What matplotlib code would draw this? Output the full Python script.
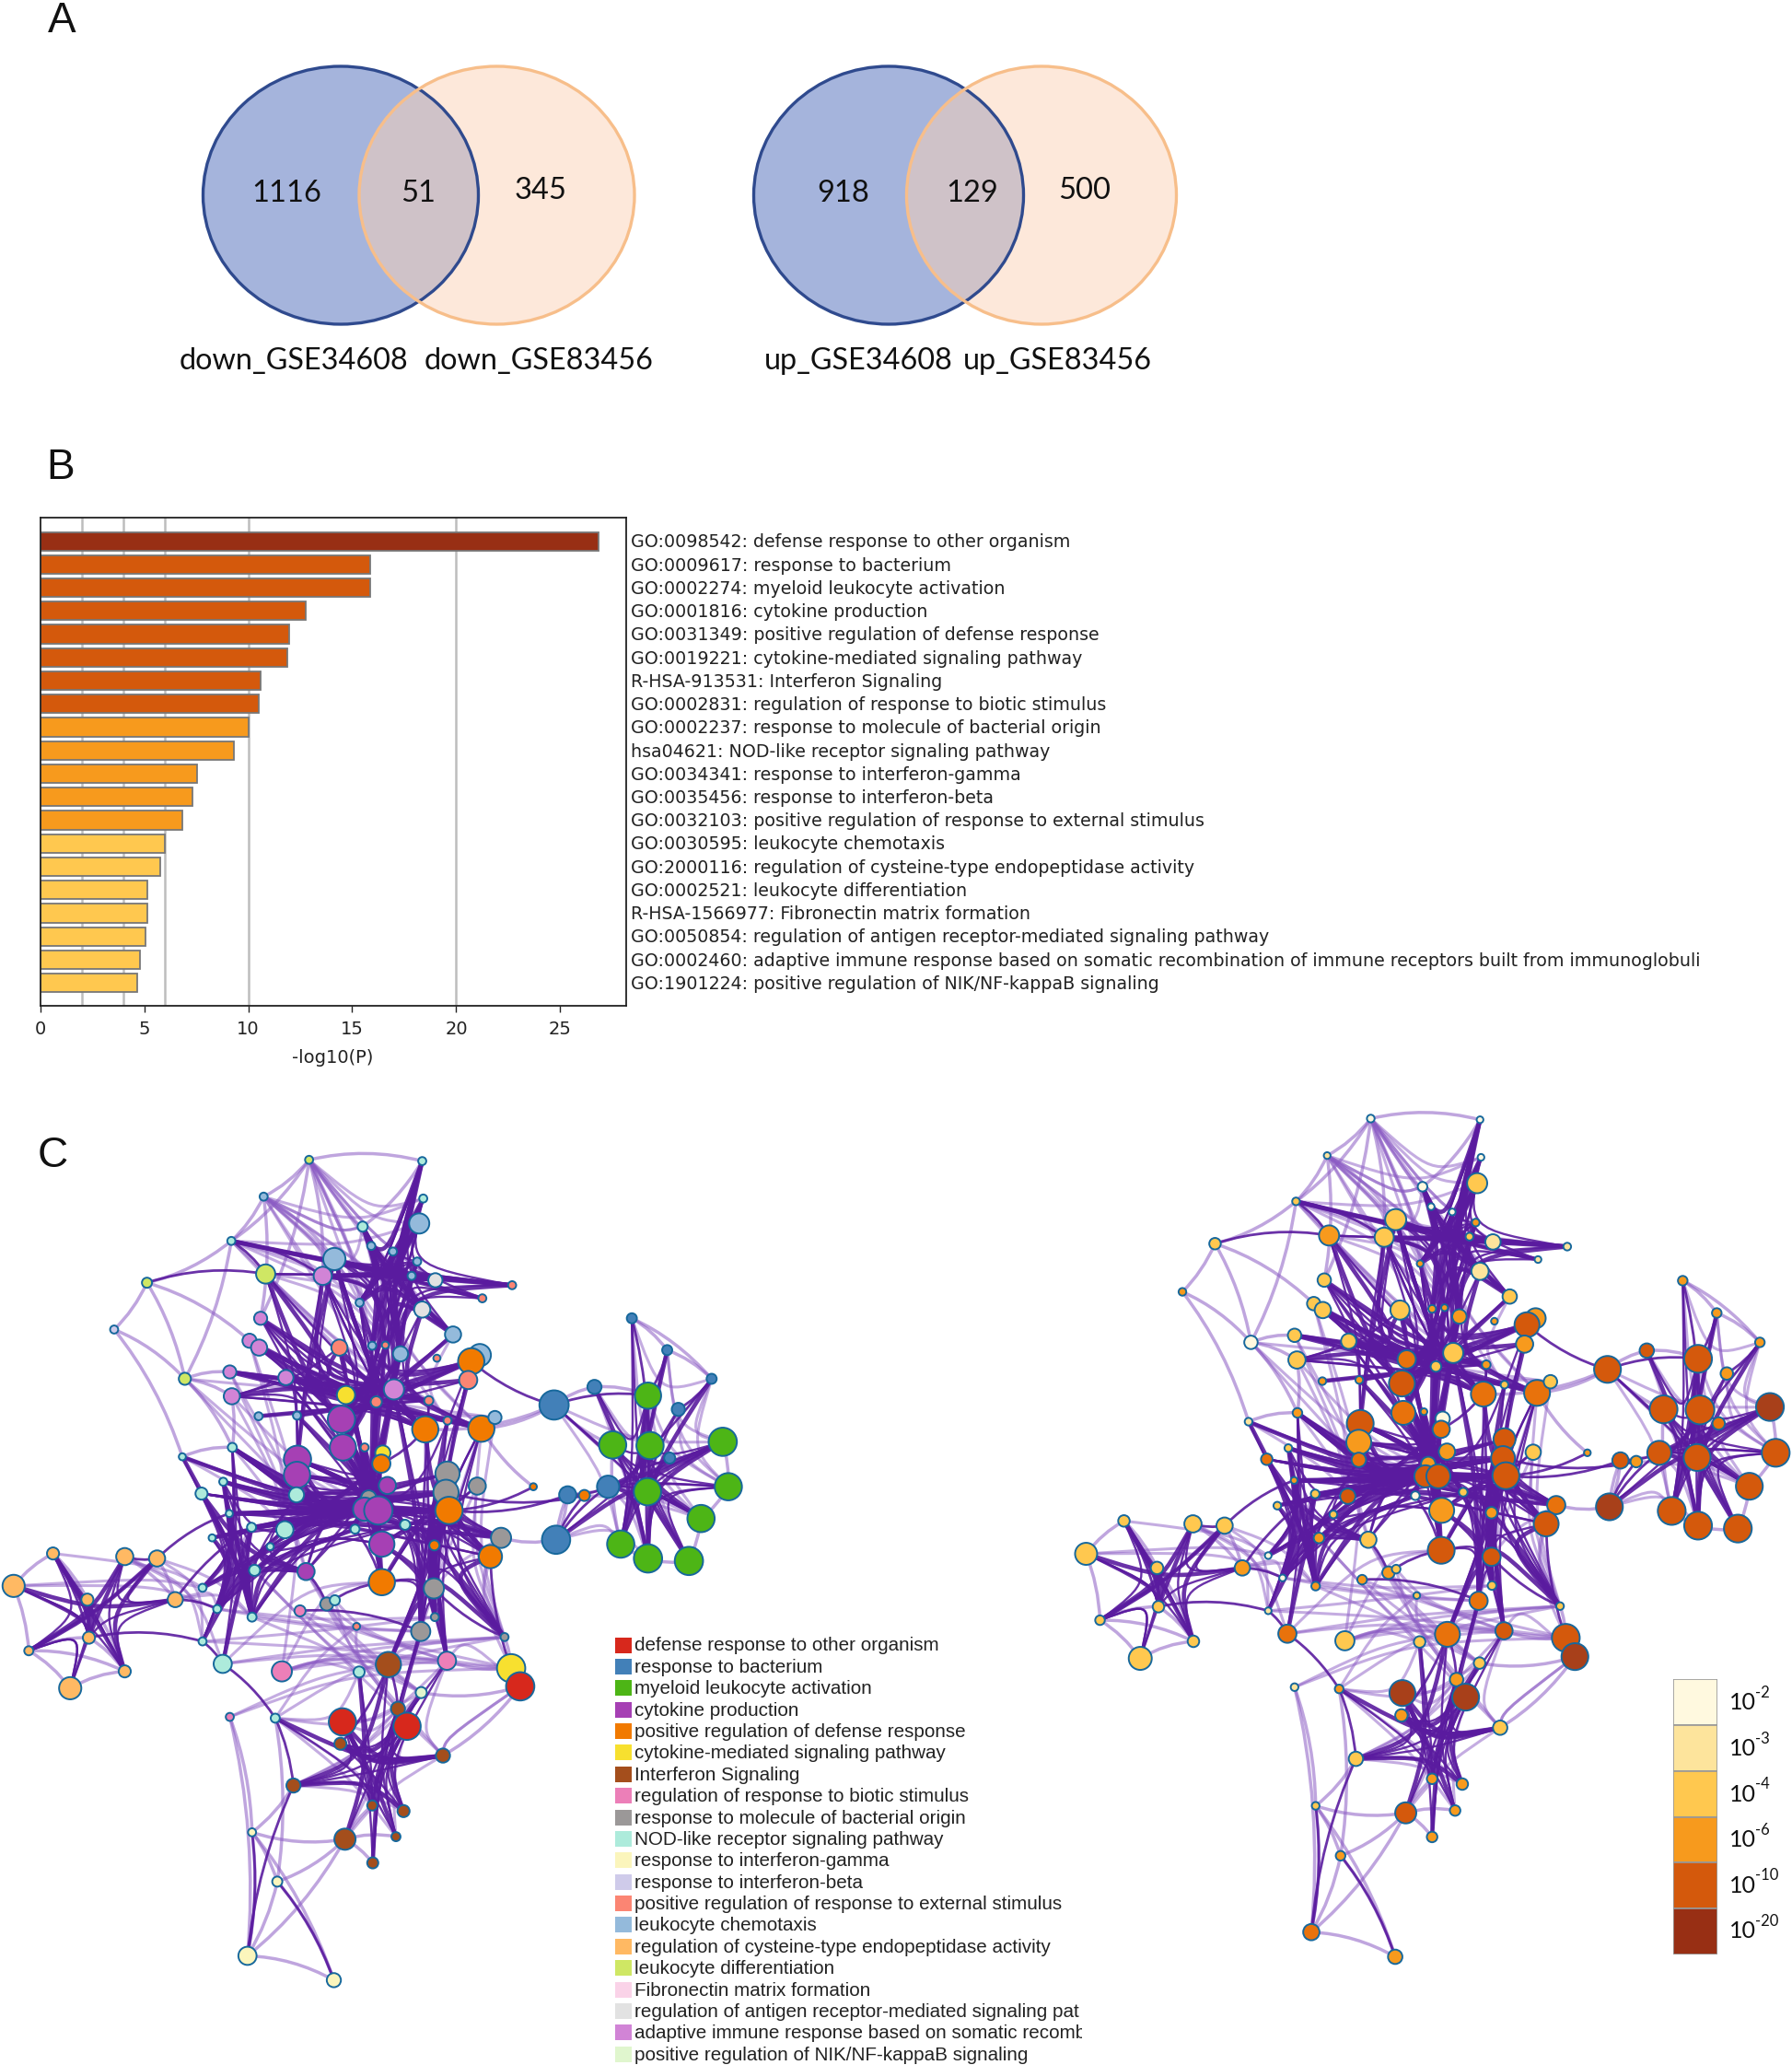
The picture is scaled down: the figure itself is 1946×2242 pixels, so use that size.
import matplotlib
matplotlib.use("Agg")
import matplotlib.pyplot as plt
from matplotlib.patches import Ellipse, PathPatch
from matplotlib.path import Path
from matplotlib.transforms import Bbox, blended_transform_factory

W, H = 1946, 2242

# ---------- panel A ----------
venn_counts = [["1116", "51", "345"], ["918", "129", "500"]]
venn_names = [["down_GSE34608", "down_GSE83456"], ["up_GSE34608", "up_GSE83456"]]

# ---------- panel B ----------
terms = [
    "GO:0098542: defense response to other organism",
    "GO:0009617: response to bacterium",
    "GO:0002274: myeloid leukocyte activation",
    "GO:0001816: cytokine production",
    "GO:0031349: positive regulation of defense response",
    "GO:0019221: cytokine-mediated signaling pathway",
    "R-HSA-913531: Interferon Signaling",
    "GO:0002831: regulation of response to biotic stimulus",
    "GO:0002237: response to molecule of bacterial origin",
    "hsa04621: NOD-like receptor signaling pathway",
    "GO:0034341: response to interferon-gamma",
    "GO:0035456: response to interferon-beta",
    "GO:0032103: positive regulation of response to external stimulus",
    "GO:0030595: leukocyte chemotaxis",
    "GO:2000116: regulation of cysteine-type endopeptidase activity",
    "GO:0002521: leukocyte differentiation",
    "R-HSA-1566977: Fibronectin matrix formation",
    "GO:0050854: regulation of antigen receptor-mediated signaling pathway",
    "GO:0002460: adaptive immune response based on somatic recombination of immune receptors built from immunoglobuli",
    "GO:1901224: positive regulation of NIK/NF-kappaB signaling",
]
log_p = [26.83, 15.85, 15.85, 12.78, 11.99, 11.87, 10.59, 10.49, 10.0, 9.33,
         7.52, 7.34, 6.85, 6.0, 5.75, 5.14, 5.14, 5.08, 4.78, 4.65]
bar_colors = ["#982F14"] + ["#D4590C"] * 7 + ["#F79A1D"] * 5 + ["#FFC84F"] * 7
grid_at = [2, 4, 6, 10, 20]

# ---------- panel C legend ----------
cluster_names = [
    "defense response to other organism", "response to bacterium",
    "myeloid leukocyte activation", "cytokine production",
    "positive regulation of defense response", "cytokine-mediated signaling pathway",
    "Interferon Signaling", "regulation of response to biotic stimulus",
    "response to molecule of bacterial origin", "NOD-like receptor signaling pathway",
    "response to interferon-gamma", "response to interferon-beta",
    "positive regulation of response to external stimulus", "leukocyte chemotaxis",
    "regulation of cysteine-type endopeptidase activity", "leukocyte differentiation",
    "Fibronectin matrix formation",
    "regulation of antigen receptor-mediated signaling pat",
    "adaptive immune response based on somatic recomb",
    "positive regulation of NIK/NF-kappaB signaling",
]
cluster_colors = ["#D7281C", "#4280B8", "#4DB516", "#A640B4", "#F17A00", "#F7E02F", "#A44E1C",
                  "#EC7FB8", "#9B9898", "#ADEBDB", "#FBF5BC", "#CFCBEA", "#FB8573", "#94BADB",
                  "#FFB963", "#CFE764", "#FAD3E8", "#E2E2E2", "#D184D6", "#E0F6CE"]
scale_labels = ["-2", "-3", "-4", "-6", "-10", "-20"]
scale_colors = ["#FFF9DF", "#FDE49C", "#FFC84F", "#F79A1D", "#D4590C", "#982F14"]
level_colors = ["#FFF9DF", "#FDE49C", "#FFC84F", "#F79A1D", "#E8720C", "#D4590C", "#A8401A"]

# ---------- networks: node tables ----------
left_x = [612,836,838,522,458,718,830,735,778,826,
          662,526,291,639,815,862,1014,955,226,712,
          836,516,494,513,897,737,763,672,793,865,
          950,933,366,455,566,459,927,685,780,745,
          849,512,588,676,842,953,980,886,460,361,
          679,722,758,755,589,588,886,945,442,399,
          587,767,883,1056,1124,1157,1204,730,722,749,
          889,454,703,802,498,564,420,535,992,860,
          756,971,1101,504,606,756,859,401,105,247,
          311,27,173,347,430,647,663,594,499,861,
          706,833,176,57,401,999,441,558,711,769,
          885,1012,1030,247,139,834,788,455,545,678,
          806,674,877,581,737,799,683,784,738,499,
          549,490,661,1097,1177,1251,1321,1409,1283,1343,
          1213,1287,1326,1431,1282,1442,1388,1229,1283,1364]
left_y = [117,119,179,176,247,224,219,255,264,280,
          276,300,314,303,303,310,318,339,389,346,
          357,371,407,418,397,415,414,418,428,435,
          430,440,468,457,466,496,470,494,485,505,
          503,528,527,533,549,548,530,535,578,593,
          578,578,587,604,597,622,620,640,633,652,
          654,639,650,641,654,655,641,659,677,679,
          679,684,709,702,706,710,723,737,723,735,
          733,753,726,775,777,794,804,803,748,753,
          756,800,822,822,837,829,823,840,850,850,
          865,873,883,904,889,882,925,937,938,926,
          920,932,961,937,964,971,997,1010,1012,1018,
          1025,1053,1072,1120,1152,1161,1206,1202,1244,1195,
          1274,1393,1432,510,481,371,422,468,495,517,
          574,575,595,569,649,641,692,733,756,760]
right_x = [689,917,919,598,533,797,911,815,859,908,
           741,602,364,717,895,944,1099,1038,296,792,
           917,592,570,589,979,817,843,750,874,947,
           1033,1015,439,530,643,535,1010,764,861,825,
           930,588,665,754,924,1036,1064,968,536,434,
           757,800,839,836,667,664,968,1028,517,472,
           664,848,965,1141,1210,1243,1291,809,803,830,
           971,529,782,882,573,641,494,611,1076,941,
           837,1055,1187,581,684,836,941,475,174,318,
           384,95,243,421,505,726,742,671,574,942,
           785,914,246,124,475,1084,515,635,791,849,
           967,1096,1115,319,208,916,868,530,623,755,
           887,753,959,658,817,880,762,865,817,574,
           626,565,740,1183,1265,1340,1411,1501,1372,1432,
           1300,1376,1415,1522,1370,1534,1479,1317,1372,1455]
right_y = [54,56,120,117,195,170,164,204,213,231,
           226,253,267,256,255,264,272,294,349,301,
           314,329,369,380,357,378,376,380,391,399,
           394,405,435,423,433,465,438,464,453,476,
           473,501,499,505,523,521,502,507,555,570,
           555,553,565,583,573,605,600,622,615,634,
           635,621,632,623,636,638,623,642,663,663,
           662,670,696,690,693,697,713,728,712,725,
           721,744,715,768,771,789,800,798,739,744,
           747,795,819,819,836,827,821,839,850,849,
           866,875,885,908,892,884,931,943,945,932,
           926,938,970,944,973,981,1009,1022,1025,1032,
           1039,1070,1091,1144,1178,1187,1236,1232,1277,1224,
           1309,1439,1481,481,449,330,385,435,463,488,
           549,550,573,545,631,623,680,722,747,752]
left_size = [16,16,16,16,16,20,40,16,16,16,
             44,38,20,36,16,28,16,16,16,16,
             32,26,28,32,32,16,14,32,30,14,
             44,52,24,26,30,32,36,36,40,22,
             18,16,16,54,52,52,26,16,18,14,
             52,16,30,36,54,52,48,34,16,24,
             30,34,50,14,34,22,44,30,46,56,
             54,14,18,20,18,34,14,14,40,20,
             50,46,56,22,34,52,40,16,24,34,
             32,44,24,30,16,26,20,22,18,16,
             14,38,24,18,16,16,36,40,22,50,
             36,56,56,24,44,22,28,16,18,54,
             54,24,28,28,20,24,42,18,22,16,
             20,36,28,58,28,20,20,20,52,26,
             54,54,22,56,54,54,54,54,56,56]
right_size = [16,14,14,14,16,20,42,14,14,16,
              44,42,24,40,16,32,16,14,16,14,
              36,28,28,34,30,16,14,40,30,14,
              42,52,28,28,32,36,36,38,42,22,
              18,16,16,54,52,54,28,16,20,16,
              50,14,30,36,56,52,46,32,16,24,
              30,34,50,14,34,24,50,30,46,50,
              56,14,18,18,18,32,16,16,38,24,
              52,52,56,22,34,56,38,14,24,36,
              34,46,26,32,14,26,18,20,18,18,
              14,38,24,20,14,16,38,40,24,52,
              36,58,56,24,48,24,28,16,18,54,
              56,26,30,30,22,24,44,22,22,16,
              20,34,30,56,30,20,20,20,58,26,
              58,60,26,58,56,58,56,58,58,58]
node_cluster = [15,9,9,13,9,9,13,13,13,13,
                13,15,15,18,13,17,12,12,11,13,
                17,18,18,18,13,13,12,12,13,12,
                13,4,15,18,18,18,12,5,18,12,
                12,13,13,3,4,4,13,12,9,9,
                3,12,5,4,3,3,8,8,9,9,
                9,3,8,4,1,4,1,8,3,3,
                4,9,9,9,9,9,9,9,8,4,
                3,4,1,9,3,4,8,9,14,14,
                14,14,14,14,9,8,9,7,9,8,
                12,8,14,14,9,8,9,7,9,6,
                7,5,0,14,14,19,6,7,9,0,
                0,6,6,6,6,6,6,6,6,10,
                10,10,10,1,1,1,1,1,2,1,
                2,2,1,2,2,2,2,2,2,2]
node_level = [0,0,0,1,2,0,2,0,0,3,
              2,3,2,2,2,1,1,1,3,3,
              1,2,2,2,2,3,3,2,3,3,
              3,5,0,2,2,2,3,4,2,2,
              3,3,3,5,4,4,2,2,3,1,
              4,3,0,4,5,3,5,2,2,4,
              4,3,5,3,5,3,5,3,5,5,
              5,3,0,2,2,5,2,2,4,3,
              3,5,6,3,2,5,5,0,2,2,
              2,2,2,3,0,3,2,3,3,2,
              2,4,2,2,1,2,4,2,2,4,
              5,5,6,2,2,2,3,1,3,6,
              6,3,2,2,3,3,5,3,3,2,
              3,4,3,5,5,3,3,3,5,3,
              5,5,4,6,5,5,5,5,5,5]

# ---------- networks: bundling points and edge chains ----------
hub_left = {"cl": (620,685), "cr": (835,685), "mid": (735,640), "up": (740,510), "ul": (600,470),
            "top": (760,300), "grn": (1260,630), "bot": (740,1100), "org": (190,850),
            "low": (480,760), "br": (850,770), "nth": (620,880)}
hub_right = {"cl": (697,675), "cr": (918,665), "mid": (815,620), "up": (820,480), "ul": (680,440),
             "top": (840,260), "grn": (1350,610), "bot": (820,1130), "org": (260,850),
             "low": (555,750), "br": (930,760), "nth": (697,880)}
strong_chains = [
    ("cl", [48,69,59,68,58,70,71,62,74,69,60,67,75,68,55,73,54,69,83,61,84,68,98,80,94,53,77,69,76,62,49,70,87,68,71,56,74,70,72,48,68]),
    ("cl", [71,62,59,70,48,56,58,62,76,78,74,81,71,70,59,62]),
    ("cr", [44,78,45,81,56,79,62,86,57,99,70,101,105,68,31,81,36,86,38,101,40,110,47,105,70,78,69,79,80,70,85,62,81,73,78,69,86,62,101,68]),
    ("mid", [43,69,50,68,54,53,55,61,37,67,39,80,38,85,52,72,43,68,51,73,43,80,50,85,42,69,34,68,27,80,39,69]),
    ("mid", [37,69,43,85,50,80,54,68,55,69,60,70,75,62,84,61,73,39,68,28,69,38,67,25,53,26,68,51,85,39,53]),
    ("up", [27,40,37,31,34,47,33,44,35,45,23,38,21,36,39,42,41,40,28,43,25,50,26,37,24,39,19,44,10,43,22,44,13,43,31,43,34,45]),
    ("up", [1,43,6,50,8,44,9,37,14,45,20,39,19,31,13,44,10,40,11,34,21,27]),
    ("ul", [33,40,21,43,23,50,35,39,22,37,13,54,11,43,34,38,27,35,33,37,21,54,10,50]),
    ("top", [5,20,6,19,7,28,8,25,9,13,14,17,15,16,10,26,13,15,5,24,1,19,2,14,4,15,11,16,4,9,1,7,5,28,6,8,2,38,10,15,13,28,1,20,17,38,16,28,24,25,6,28]),
    ("top", [25,5,19,1,28,7,24,8,14,10,17,2,16,9,15,19,20,10]),
    ("grn", [138,144,140,146,141,147,143,148,145,149,144,146,66,141,139,148,137,140,142,147,135,144,136,141,82,144,133,140,134,138,143,66,145,144,141,149,138,147,140,148,66,146,144,143,141,145]),
    ("org", [88,113,91,102,92,114,103,90,93,89,103,114,102,89,113,92,88,103,90,113,93,102,88,102,91,93]),
    ("low", [74,98,71,94,76,104,58,87,48,106,83,98,77,84,60,98,59,94,75,104,48,98,71,83,74,94,58,98,49,94]),
    ("low", [87,84,94,72,98,73,77,68,58,84,59,98]),
    ("bot", [119,122,121,125,123,124,116,128,120,123,109,127,118,122,116,126,108,124,115,121,110,125,101,128,119,124,120,121,122,123,119,127,120,125]),
    ("br", [79,86,70,99,62,101,56,110,45,105,81,86,73,101,85,99,80,110,70,109,62,105,86,110,101,109]),
]
strong_direct = [[133,31],[133,138],[82,66],[64,70],[63,70],[65,62],[82,65],[66,64],[111,81],[105,86],[90,71],[93,94],[93,74],
                 [102,104],[104,106],[106,118],[118,123],[90,89],[88,102],[129,131],[130,132],[131,123],[72,85],[84,95],[95,85],
                 [4,11],[4,13],[12,11],[135,144],[136,138],[137,139],[44,53],[97,101],[109,116],[109,121]]
weak_chains = [
    ("nth", [107,105,106,110,117,111,104,99,94,101,98,115,97,111,107,109,105,118,100,116,96,110,95,115,84,122,83,108,107,110]),
    ("cl", [106,85,107,60,32,68,49,75,35,69,48,84,33,60,22,75]),
    ("up", [32,38,11,40,4,44,3,28,0,45,5,47,46,37,30,39,24,47]),
    ("grn", [133,144,64,146,66,148,134,141,135,137,139,145,136,143,133,147,82,148,140,149,141,146,138,145,137,143]),
    ("low", [88,87,91,94,93,98,90,104,89,106,74,87]),
    ("bot", [108,118,115,123,116,119,110,122,112,122,126,120,127,118,125,123]),
    ("br", [46,105,45,86,78,105,57,101,44,99,79,110,112,81]),
    ("top", [0,5,3,20,0,19,3,13,4,6,0,15,0,24,3,28,4,19,11,25,0,2,3,5,13,16,10,17]),
]
weak_direct = [[0,3],[0,4],[0,1],[1,5],[3,4],[4,12],[12,18],[12,32],[18,49],[32,33],[32,48],[12,22],[4,32],[0,21],[3,10],[0,13],
               [3,21],[49,48],[18,32],[32,35],[35,48],[135,136],[136,137],[135,137],[143,145],[145,146],[146,149],[149,148],[148,147],
               [147,140],[140,133],[133,134],[134,138],[91,88],[91,103],[103,114],[114,113],[103,113],[129,130],[130,132],[131,132],
               [129,131],[126,131],[126,130],[126,129],[123,129],[117,129],[117,131],[118,130],[126,128],[126,127],[126,124],[130,131],
               [129,132],[112,122],[112,115],[111,110],[105,111],[133,44],[133,45],[82,64],[82,78],[64,82],[63,45],[65,64],
               [92,113],[102,113],[88,92],[103,102],[89,93],[90,93]]

# ---------- drawing helpers ----------
fig = plt.figure(figsize=(W / 100, H / 100), dpi=100, facecolor="white")


def box(x, y, w, h, **kw):
    return fig.add_axes([x / W, 1 - (y + h) / H, w / W, h / H], **kw)


def clip_px(text, x0, x1):
    text.set_clip_box(Bbox([[x0, 0], [x1, H]]))
    text.set_clip_on(True)


page = box(0, 0, W, H, facecolor="none")
page.set_xlim(0, W)
page.set_ylim(H, 0)
page.axis("off")

# ---------- panel letters ----------
for letter, (px, py) in zip("ABC", [(67, 23), (66, 508), (57, 1255)]):
    page.text(px, py, letter, fontsize=33, family="Liberation Sans", ha="center", va="center", color="#111111")

# ---------- venn ----------
venn_centres = [(370, 539.5), (965, 1131)]
venn_w = [299, 293]
count_x = [(311, 454, 587), (916, 1056, 1178)]
name_x = [(319, 585), (932, 1148)]
for (bx, ox), w, counts, names, cx, nx in zip(venn_centres, venn_w, venn_counts, venn_names, count_x, name_x):
    page.add_patch(Ellipse((bx, 212), w, 280, fc="#A5B4DC", ec="none", zorder=1))
    page.add_patch(Ellipse((ox, 212), w, 280, fc="#FBD2B4", ec="none", alpha=0.49, zorder=2))
    page.add_patch(Ellipse((bx, 212), w, 280, fc="none", ec="#2F4A8E", lw=2.4, zorder=3))
    page.add_patch(Ellipse((ox, 212), w, 280, fc="none", ec="#F7BE8A", lw=2.4, zorder=3))
    ys = (210, 210, 207)
    for c, x, y in zip(counts, cx, ys):
        page.text(x, y, c, fontsize=23.5, family="Lato", ha="center", va="center", color="#111111", zorder=4)
    for n, x in zip(names, nx):
        page.text(x, 392, n, fontsize=23.3, family="Lato", ha="center", va="center", color="#111111", zorder=4)

# ---------- bar chart ----------
ax = box(43.6, 562.4, 636, 530)
ax.set_xlim(0, 28.15)
ax.set_ylim(20, -1)
for g in grid_at:
    ax.axvline(g, color="#BDBDBD", lw=1.8, zorder=1)
ax.barh(range(len(log_p)), log_p, height=0.8, color=bar_colors, edgecolor="#777777", linewidth=1.3, zorder=2)
ax.set_xticks([0, 5, 10, 15, 20, 25])
ax.set_yticks([])
ax.tick_params(axis="x", labelsize=14, length=5, width=1, colors="#222222", pad=6)
ax.set_xlabel("-log10(P)", fontsize=14, color="#222222", labelpad=9)
for s in ax.spines.values():
    s.set_linewidth(1.3)
    s.set_color("#222222")
label_tf = blended_transform_factory(page.transData, ax.transData)
for i, term in enumerate(terms):
    ax.text(685, i + 0.05, term, fontsize=13.7, color="#222222", va="center", ha="left", transform=label_tf)


# ---------- networks ----------
def draw_network(axis, xs, ys, sizes, colors, hubs, sx):
    def edge(a, b, hub, width, color, alpha, pull):
        p0, p1 = (xs[a], ys[a]), (xs[b], ys[b])
        mx, my = (p0[0] + p1[0]) / 2, (p0[1] + p1[1]) / 2
        if hub is None:
            ctrl = (mx + (p1[1] - p0[1]) * 0.10, my - (p1[0] - p0[0]) * 0.10)
            path = Path([p0, ctrl, p1], [Path.MOVETO, Path.CURVE3, Path.CURVE3])
        else:
            h = hubs[hub]
            c = (pull * h[0] + (1 - pull) * mx, pull * h[1] + (1 - pull) * my)
            path = Path([p0, c, c, p1], [Path.MOVETO, Path.CURVE4, Path.CURVE4, Path.CURVE4])
        axis.add_patch(PathPatch(path, fc="none", ec=color, lw=width, alpha=alpha, zorder=1, capstyle="round"))

    weak, strong = "#8B5BC4", "#5A1B9F"
    for hub, chain in weak_chains:
        for a, b in zip(chain, chain[1:]):
            edge(a, b, hub, 2.2, weak, 0.5, 0.35)
    for a, b in weak_direct:
        edge(a, b, None, 2.5, weak, 0.55, 0)
    for hub, chain in strong_chains:
        for k, (a, b) in enumerate(zip(chain, chain[1:])):
            edge(a, b, hub, 1.7 + 1.6 * (k % 3 == 0), strong, 0.9, 0.72)
    for a, b in strong_direct:
        edge(a, b, None, 2.0, strong, 0.9, 0)
    pts = [(d / sx * 0.72) ** 2 for d in sizes]
    axis.scatter(xs, ys, s=pts, c=colors, edgecolors="#17689C", linewidths=1.4, zorder=3, clip_on=False)
    axis.axis("off")


net_l = box(0, 1180, 860, 1062, facecolor="none")
net_l.set_xlim(0, 1568)
net_l.set_ylim(1568, 0)
draw_network(net_l, left_x, left_y, left_size, [cluster_colors[c] for c in node_cluster], hub_left, 1.823)

net_r = box(1130, 1180, 816, 1000, facecolor="none")
net_r.set_xlim(0, 1568)
net_r.set_ylim(1568, 0)
draw_network(net_r, right_x, right_y, right_size, [level_colors[v] for v in node_level], hub_right, 1.92)

# ---------- cluster legend ----------
leg = box(0, 0, W, H, facecolor="none")
leg.set_xlim(0, W)
leg.set_ylim(H, 0)
leg.axis("off")
leg.barh([1786 + 23.38 * i for i in range(20)], [18] * 20, left=668, height=17, color=cluster_colors)
for i, name in enumerate(cluster_names):
    t = leg.text(689, 1787 + 23.38 * i, name, fontsize=14.9, family="Liberation Sans", color="#222222",
                 va="center", ha="left")
    clip_px(t, 0, 1175)

# ---------- colour scale ----------
sc = box(1817, 1823, 48, 299)
sc.bar([0] * 6, [1] * 6, bottom=range(6), width=1, color=scale_colors, edgecolor="#999999", linewidth=1.2)
sc.set_xlim(-0.5, 0.5)
sc.set_ylim(6, 0)
sc.axis("off")
for i, lab in enumerate(scale_labels):
    y = 1846 + 49.6 * i
    page.text(1878, y + 3, "10", fontsize=18, family="Lato", va="center", ha="left", color="#111111")
    page.text(1906, y - 8, lab, fontsize=12, family="Lato", va="center", ha="left", color="#111111")

fig.savefig("out.png", dpi=100)
